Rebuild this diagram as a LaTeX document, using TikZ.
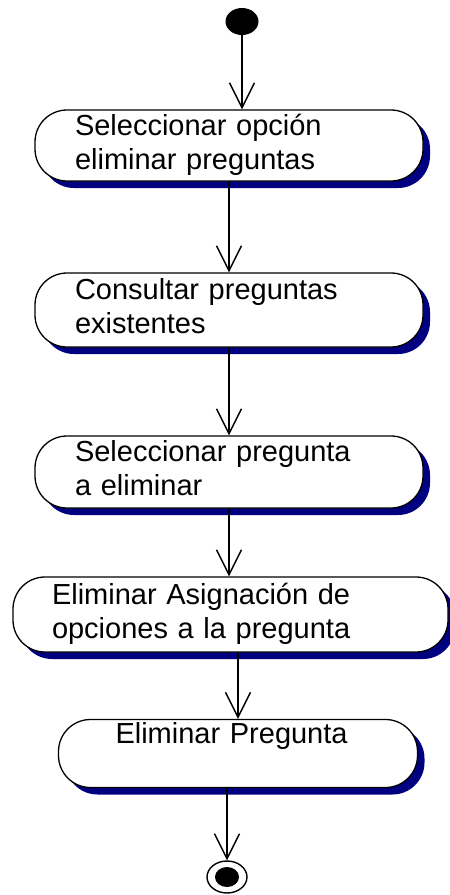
\documentclass[tikz,border=0pt]{standalone}
\usepackage{fontspec}
\setmainfont{Liberation Sans}
\usetikzlibrary{arrows.meta,shapes.geometric,shadows}
\definecolor{navyshadow}{RGB}{0,0,128}
\tikzset{
  actbox/.style={draw, line width=1.3pt, fill=white, rounded corners=32pt,
    align=left, inner ysep=0pt, font=\fontsize{29}{34}\selectfont,
    drop shadow={shadow xshift=7pt, shadow yshift=-7pt, fill=navyshadow, opacity=1}},
  flow/.style={line width=1.4pt, -{Straight Barb[length=25pt,width=25pt]}}
}
\begin{document}
\begin{tikzpicture}[x=1pt,y=-1pt]
\useasboundingbox (0,0) rectangle (450,895);

\node[ellipse, fill=black, minimum width=33pt, minimum height=27pt, inner sep=0pt] (start) at (242,21.5) {};

\node[actbox, minimum width=388pt, minimum height=71pt, inner xsep=40pt, text width=308pt] (a1) at (229,145.5) {Seleccionar opción\strut\\eliminar preguntas\strut};
\node[actbox, minimum width=388pt, minimum height=74pt, inner xsep=40pt, text width=308pt] (a2) at (229,310) {Consultar preguntas\strut\\existentes\strut};
\node[actbox, minimum width=388pt, minimum height=72pt, inner xsep=40pt, text width=308pt] (a3) at (229,472) {Seleccionar pregunta\strut\\a eliminar\strut};
\node[actbox, minimum width=435pt, minimum height=75pt, inner xsep=39pt, text width=357pt] (a4) at (230.5,614.5) {Eliminar Asignación de\strut\\opciones a la pregunta\strut};
\node[actbox, minimum width=359pt, minimum height=67pt, inner xsep=57pt, text width=245pt] (a5) at (238,753.5) {Eliminar Pregunta\strut\\\strut};

\node[ellipse, draw, line width=1.4pt, minimum width=40pt, minimum height=32pt, inner sep=0pt] (final) at (227,877) {};
\node[ellipse, fill=black, minimum width=24pt, minimum height=20pt, inner sep=0pt] (finaldot) at (final) {};

\draw[flow] (start) -- (start |- a1.north);
\draw[flow] (a1.south) -- (a2.north);
\draw[flow] (a2.south) -- (a3.north);
\draw[flow] (a3.south) -- (a3.south |- a4.north);
\draw[flow] (a4.south -| a5.north) -- (a5.north);
\draw[flow] (a5.south -| final) -- (final);

\end{tikzpicture}
\end{document}
